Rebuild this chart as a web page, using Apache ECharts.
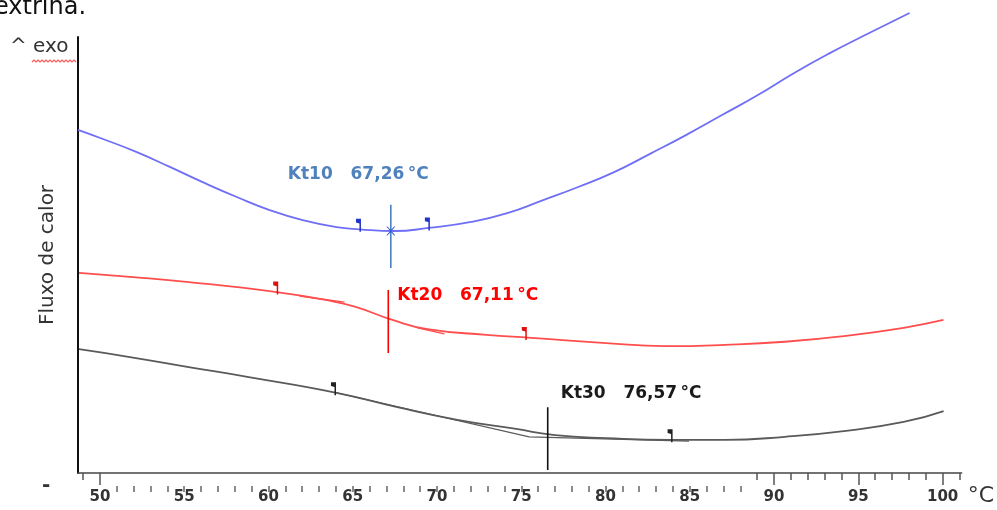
<!DOCTYPE html>
<html>
<head>
<meta charset="utf-8">
<title>Fluxo de calor – Kt10 / Kt20 / Kt30</title>
<script src="https://cdn.jsdelivr.net/npm/echarts@6/dist/echarts.min.js"></script>
<style>
  html, body { margin: 0; padding: 0; background: #fff; }
  #chart { width: 997px; height: 510px; }
</style>
</head>
<body>
<div id="chart"></div>
<script>
// DSC heat-flow curves (arbitrary units, exo up) versus temperature in °C
const kt10Temp = [48.70, 50.18, 52.19, 54.15, 56.10, 58.12, 60.07, 62.03, 64.04, 65.40, 67.48, 69.49, 72.04, 74.17, 76.30, 78.38, 80.51, 82.64, 84.77, 86.91, 89.04, 91.17, 93.31, 95.44, 98.04];
const kt10Flow = [78.7, 76.6, 73.6, 70.2, 66.7, 63.3, 60.3, 58.0, 56.4, 55.9, 55.5, 56.2, 57.6, 59.6, 62.6, 65.6, 69.0, 73.2, 77.5, 82.1, 86.7, 91.7, 96.3, 100.5, 105.5];

const kt20Temp = [48.76, 51.78, 55.27, 60.49, 63.39, 65.17, 67.36, 69.43, 72.93, 75.59, 80.04, 83.53, 87.09, 90.64, 94.14, 97.69, 100.05];
const kt20Flow = [45.9, 45.0, 43.8, 41.5, 39.7, 38.1, 35.1, 33.0, 31.7, 31.0, 29.8, 29.1, 29.4, 30.1, 31.4, 33.3, 35.1];

const kt30Temp = [48.76, 51.78, 55.27, 58.83, 64.04, 67.65, 71.21, 74.70, 77.01, 80.04, 83.89, 87.09, 90.64, 94.14, 97.69, 100.06];
const kt30Flow = [28.4, 26.6, 24.3, 22.0, 18.4, 15.1, 12.2, 10.1, 8.7, 8.0, 7.6, 7.6, 8.3, 9.6, 11.7, 14.2];

// Evaluation results: name, temperature, vertical marker span (flow units)
const peakNames = ['Kt10', 'Kt20', 'Kt30'];
const peakTemps = [67.26, 67.11, 76.57];
const peakSpanTop = [61.5, 42.0, 15.1];
const peakSpanBottom = [47.0, 27.5, 0.7];
const kt10CrossFlow = 55.5;

// Onset / endset limit flags on each curve
const flagTemps = { kt10: [65.40, 69.49], kt20: [60.49, 75.24], kt30: [63.92, 83.89] };
const flagFlows = { kt10: [55.9, 56.2], kt20: [41.5, 31.1], kt30: [18.4, 7.6] };

// Tangent constructions
const kt20TangentTemp = [61.85, 64.51, null, 68.84, 70.44];
const kt20TangentFlow = [40.6, 39.2, null, 33.3, 31.9];
const kt30TangentTemp = [64.04, 75.47, 84.95];
const kt30TangentFlow = [18.4, 8.3, 7.3];

// Temperature axis ticks
const xMin = 48.7, xMax = 101.13;
const labelTicks = [50, 55, 60, 65, 70, 75, 80, 85, 90, 95, 100];
const majorTicks = [50, 90, 95, 100];
const minorTicksUpper = [49, 89, 91, 92, 93, 94, 96, 97, 98, 99, 101];
const minorTicksLower = [];
for (let t = 51; t <= 88; t++) minorTicksLower.push(t);

const zip = (a, b) => a.map((v, i) => (v === null ? [null, null] : [v, b[i]]));
const fmtTemp = t => t.toFixed(2).replace('.', ',') + '\u2009°C';

const FONT = '"DejaVu Sans", Verdana, sans-serif';
const colors = { kt10: '#6f6ff6', kt20: '#ff4e4e', kt30: '#5a5a5a' };
const markColors = ['#4a7fc0', '#ff0000', '#111111'];
const labelColors = ['#4f81bd', '#ff0000', '#1a1a1a'];

const flagPath = 'path://M0,0 L4,0 L4,14 L2.8,14 L2.8,5 L0,4 Z';
const crossPath = 'path://M0,0 L1,0 L4,3.2 L7,0 L8,0 L4.6,4 L8,8 L7,8 L4,4.8 L1,8 L0,8 L3.4,4 Z';

function curve(name, temps, flows, color) {
  return {
    name, type: 'line', xAxisIndex: 0, data: zip(temps, flows),
    smooth: 0.5, showSymbol: false, clip: false,
    lineStyle: { color, width: 1.8 }, z: 3
  };
}

function flags(key, color) {
  return {
    type: 'scatter', xAxisIndex: 0, data: zip(flagTemps[key], flagFlows[key]),
    symbol: flagPath, symbolSize: [5, 13], symbolOffset: [-1, -4],
    itemStyle: { color, opacity: 1 }, z: 5
  };
}

const peakLabelPos = [[-103, -30], [9, 6], [13, -14]];

const series = [
  curve('Kt10', kt10Temp, kt10Flow, colors.kt10),
  curve('Kt20', kt20Temp, kt20Flow, colors.kt20),
  curve('Kt30', kt30Temp, kt30Flow, colors.kt30),
  {
    type: 'line', xAxisIndex: 0, data: zip(kt20TangentTemp, kt20TangentFlow),
    showSymbol: false, connectNulls: false, lineStyle: { color: colors.kt20, width: 1.4 }, z: 2
  },
  {
    type: 'line', xAxisIndex: 0, data: zip(kt30TangentTemp, kt30TangentFlow),
    showSymbol: false, lineStyle: { color: colors.kt30, width: 1.2 }, z: 2
  },
  flags('kt10', '#2233cc'),
  flags('kt20', '#e01010'),
  flags('kt30', '#222222'),
  {
    type: 'scatter', xAxisIndex: 0, data: [[peakTemps[0], kt10CrossFlow]],
    symbol: crossPath, symbolSize: 9, itemStyle: { color: '#3a5fd0', opacity: 1 }, z: 6
  }
];

peakNames.forEach((name, i) => {
  series.push({
    type: 'line', xAxisIndex: 0,
    data: [[peakTemps[i], peakSpanTop[i]], [peakTemps[i], peakSpanBottom[i]]],
    showSymbol: false, lineStyle: { color: markColors[i], width: 1.6 }, z: 4
  });
  series.push({
    type: 'scatter', xAxisIndex: 0, data: [[peakTemps[i], peakSpanTop[i]]],
    symbolSize: 0, z: 7, itemStyle: { opacity: 1 },
    label: {
      show: true, position: peakLabelPos[i], align: 'left', verticalAlign: 'middle',
      formatter: () => name + '   ' + fmtTemp(peakTemps[i]),
      fontFamily: FONT, fontWeight: 'bold', fontSize: 17, color: labelColors[i], opacity: 1
    }
  });
});

const baseX = {
  type: 'value', min: xMin, max: xMax, position: 'bottom',
  splitLine: { show: false }
};

const option = {
  animation: false,
  backgroundColor: '#ffffff',
  grid: { left: 78, right: 34, top: 37, bottom: 37 },
  xAxis: [
    Object.assign({}, baseX, {
      axisLine: { lineStyle: { color: '#444', width: 1.5 } },
      axisTick: { customValues: majorTicks, length: 12, lineStyle: { color: '#555', width: 1.5 } },
      axisLabel: {
        customValues: labelTicks, margin: 17, fontFamily: FONT, fontWeight: 'bold',
        fontSize: 15, color: '#333'
      },
      name: '°C', nameLocation: 'end', nameGap: 6,
      nameTextStyle: { fontFamily: FONT, fontSize: 22, color: '#333', verticalAlign: 'top', padding: [12, 0, 0, 0] }
    }),
    Object.assign({}, baseX, {
      axisLine: { show: false },
      axisTick: { customValues: minorTicksUpper, length: 7, lineStyle: { color: '#555', width: 1.5 } },
      axisLabel: { show: false }
    }),
    Object.assign({}, baseX, {
      offset: 13,
      axisLine: { show: false },
      axisTick: { customValues: minorTicksLower, length: 6, lineStyle: { color: '#666', width: 1.5 } },
      axisLabel: { show: false }
    })
  ],
  yAxis: {
    type: 'value', min: 0, max: 100,
    axisLine: { show: true, lineStyle: { color: '#111', width: 2 } },
    axisTick: { show: false }, axisLabel: { show: false }, splitLine: { show: false },
    name: 'Fluxo de calor', nameLocation: 'middle', nameGap: 20,
    nameTextStyle: { fontFamily: FONT, fontSize: 20, color: '#333' }
  },
  graphic: [
    { type: 'text', left: -6, top: -4, style: { text: 'extrina.', font: '24px ' + FONT, fill: '#111' } },
    { type: 'text', left: 10, top: 37, style: { text: '^ exo', font: '20px ' + FONT, fill: '#333' } },
    {
      type: 'polyline', z: 10,
      shape: { points: [[32, 62], [34, 60], [36, 62], [38, 60], [40, 62], [42, 60], [44, 62], [46, 60], [48, 62], [50, 60], [52, 62], [54, 60], [56, 62], [58, 60], [60, 62], [62, 60], [64, 62], [66, 60], [68, 62], [70, 60], [72, 62], [74, 60], [76, 62]] },
      style: { stroke: '#ff5a5a', lineWidth: 1.2, fill: null }
    },
    { type: 'text', left: 42, top: 476, style: { text: '-', font: 'bold 20px ' + FONT, fill: '#333' } }
  ],
  series
};

const chart = echarts.init(document.getElementById('chart'), null, { renderer: 'canvas' });
chart.setOption(option);
</script>
</body>
</html>
